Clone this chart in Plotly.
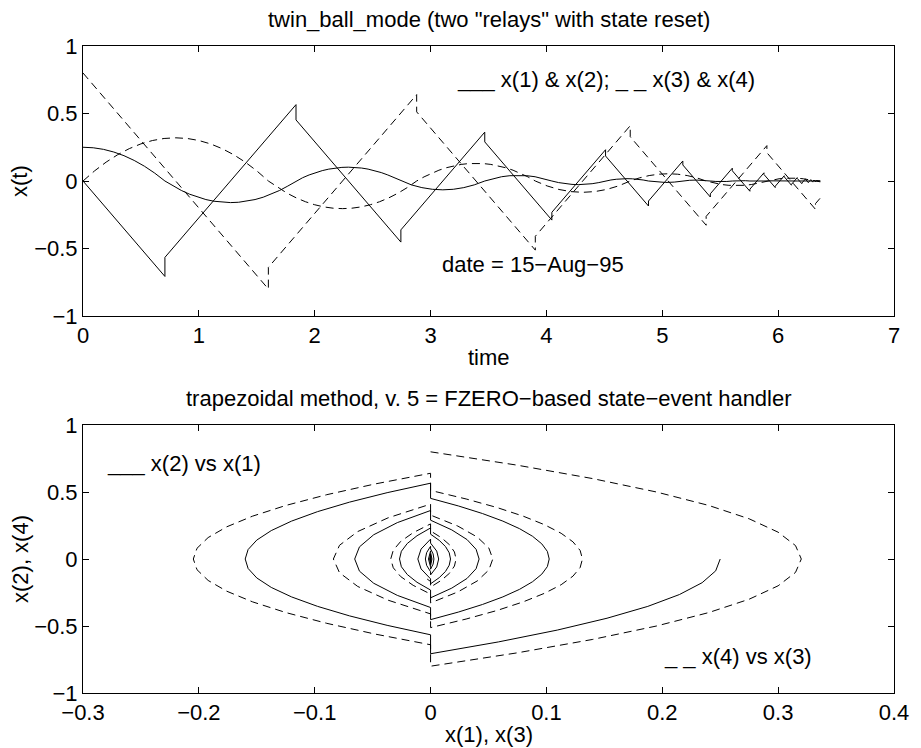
import plotly.graph_objects as go

# ---- solid system: time, x(1), x(2) ----
t_a = [0, 0.0884, 0.1768, 0.2652, 0.3536, 0.4419, 0.5303, 0.6187, 0.7071,
       0.7071, 0.7778, 0.8485, 0.9192, 0.9899, 1.0607, 1.1314, 1.2021, 1.2728, 1.3435, 1.4142, 1.4849, 1.5556, 1.6263, 1.6971, 1.7678, 1.8385,
       1.8385, 1.8951, 1.9516, 2.0082, 2.0648, 2.1214, 2.1779, 2.2345, 2.2911, 2.3477, 2.4042, 2.4608, 2.5174, 2.5740, 2.6305, 2.6871, 2.7437,
       2.7437, 2.8342, 2.9247, 3.0152, 3.1057, 3.1962, 3.2867, 3.3772, 3.4677,
       3.4677, 3.5401, 3.6125, 3.6849, 3.7573, 3.8297, 3.9021, 3.9745, 4.0469,
       4.0469, 4.1048, 4.1627, 4.2207, 4.2786, 4.3365, 4.3944, 4.4524, 4.5103,
       4.5103, 4.5566, 4.6030, 4.6493, 4.6956, 4.7419, 4.7883, 4.8346, 4.8809,
       4.8809, 4.9550, 5.0292, 5.1033, 5.1774,
       5.1774, 5.2367, 5.2960, 5.3553, 5.4146,
       5.4146, 5.4621, 5.5095, 5.5570, 5.6044,
       5.6044, 5.6424, 5.6803, 5.7183, 5.7562,
       5.7562, 5.8169, 5.8776,
       5.8776, 5.9262, 5.9748,
       5.9748, 6.0137, 6.0526,
       6.0526, 6.0837, 6.1148,
       6.1148, 6.1397, 6.1646,
       6.1646, 6.1845, 6.2044,
       6.2044, 6.2203, 6.2362,
       6.2362, 6.2489, 6.2616,
       6.2616, 6.2718, 6.2820,
       6.2820, 6.2902, 6.2984,
       6.2984, 6.3049, 6.3114,
       6.3114, 6.3166, 6.3218,
       6.3218, 6.3260, 6.3302,
       6.3302, 6.3640]

x1 = [0.25, 0.2461, 0.2344, 0.2148, 0.1875, 0.1523, 0.1094, 0.0586, 0,
      0, -0.0375, -0.07, -0.0975, -0.12, -0.1375, -0.15, -0.1575, -0.16, -0.1575, -0.15, -0.1375, -0.12, -0.0975, -0.07, -0.0375, 0,
      0, 0.024, 0.0448, 0.0624, 0.0768, 0.088, 0.096, 0.1008, 0.1024, 0.1008, 0.096, 0.088, 0.0768, 0.0624, 0.0448, 0.024, 0,
      0, -0.0287, -0.0491, -0.0614, -0.0655, -0.0614, -0.0491, -0.0287, 0,
      0, 0.0183, 0.0315, 0.0393, 0.0419, 0.0393, 0.0315, 0.0183, 0,
      0, -0.0117, -0.0201, -0.0252, -0.0268, -0.0252, -0.0201, -0.0117, 0,
      0, 0.0075, 0.0129, 0.0161, 0.0172, 0.0161, 0.0129, 0.0075, 0,
      0, -0.0082, -0.011, -0.0082, 0,
      0, 0.0053, 0.007, 0.0053, 0,
      0, -0.0034, -0.0045, -0.0034, 0,
      0, 0.0022, 0.0029, 0.0022, 0,
      0, -0.0018, 0,
      0, 0.0012, 0,
      0, -0.0008, 0,
      0, 0.0005, 0,
      0, -0.0003, 0,
      0, 0.0002, 0,
      0, -0.0001, 0,
      0, 0.0001, 0,
      0, -0.0001, 0,
      0, 0, 0,
      0, 0, 0,
      0, 0, 0,
      0, 0, 0,
      0, 0]

x2 = [0, -0.0884, -0.1768, -0.2652, -0.3536, -0.4419, -0.5303, -0.6187, -0.7071,
      -0.5657, -0.495, -0.4243, -0.3536, -0.2828, -0.2121, -0.1414, -0.0707, 0, 0.0707, 0.1414, 0.2121, 0.2828, 0.3536, 0.4243, 0.495, 0.5657,
      0.4525, 0.396, 0.3394, 0.2828, 0.2263, 0.1697, 0.1131, 0.0566, 0, -0.0566, -0.1131, -0.1697, -0.2263, -0.2828, -0.3394, -0.396, -0.4525,
      -0.362, -0.2715, -0.181, -0.0905, 0, 0.0905, 0.181, 0.2715, 0.362,
      0.2896, 0.2172, 0.1448, 0.0724, 0, -0.0724, -0.1448, -0.2172, -0.2896,
      -0.2317, -0.1738, -0.1158, -0.0579, 0, 0.0579, 0.1158, 0.1738, 0.2317,
      0.1853, 0.139, 0.0927, 0.0463, 0, -0.0463, -0.0927, -0.139, -0.1853,
      -0.1483, -0.0741, 0, 0.0741, 0.1483,
      0.1186, 0.0593, 0, -0.0593, -0.1186,
      -0.0949, -0.0475, 0, 0.0475, 0.0949,
      0.0759, 0.038, 0, -0.038, -0.0759,
      -0.0607, 0, 0.0607,
      0.0486, 0, -0.0486,
      -0.0389, 0, 0.0389,
      0.0311, 0, -0.0311,
      -0.0249, 0, 0.0249,
      0.0199, 0, -0.0199,
      -0.0159, 0, 0.0159,
      0.0127, 0, -0.0127,
      -0.0102, 0, 0.0102,
      0.0082, 0, -0.0082,
      -0.0065, 0, 0.0065,
      0.0052, 0, -0.0052,
      -0.0042, 0, 0.0042,
      0.0034, 0]

# ---- dashed system: time, x(3), x(4) ----
t_b = [0, 0.1, 0.2, 0.3, 0.4, 0.5, 0.6, 0.7, 0.8, 0.9, 1.0, 1.1, 1.2, 1.3, 1.4, 1.5, 1.6,
       1.6, 1.68, 1.76, 1.84, 1.92, 2.0, 2.08, 2.16, 2.24, 2.32, 2.4, 2.48, 2.56, 2.64, 2.72, 2.8, 2.88,
       2.88, 2.944, 3.008, 3.072, 3.136, 3.2, 3.264, 3.328, 3.392, 3.456, 3.52, 3.584, 3.648, 3.712, 3.776, 3.84, 3.904,
       3.904, 4.0064, 4.1088, 4.2112, 4.3136, 4.416, 4.5184, 4.6208, 4.7232,
       4.7232, 4.8051, 4.887, 4.969, 5.0509, 5.1328, 5.2148, 5.2967, 5.3786,
       5.3786, 5.4441, 5.5097, 5.5752, 5.6408, 5.7063, 5.7718, 5.8374, 5.9029,
       5.9029, 5.9553, 6.0078, 6.0602, 6.1126, 6.165, 6.2175, 6.2699, 6.3223,
       6.3223, 6.3423, 6.364]

x3 = [0, 0.075, 0.14, 0.195, 0.24, 0.275, 0.3, 0.315, 0.32, 0.315, 0.3, 0.275, 0.24, 0.195, 0.14, 0.075, 0,
      0, -0.048, -0.0896, -0.1248, -0.1536, -0.176, -0.192, -0.2016, -0.2048, -0.2016, -0.192, -0.176, -0.1536, -0.1248, -0.0896, -0.048, 0,
      0, 0.0307, 0.0574, 0.0799, 0.0983, 0.1127, 0.1229, 0.1291, 0.1311, 0.1291, 0.1229, 0.1127, 0.0983, 0.0799, 0.0574, 0.0307, 0,
      0, -0.0367, -0.0629, -0.0786, -0.0839, -0.0786, -0.0629, -0.0367, 0,
      0, 0.0235, 0.0403, 0.0503, 0.0537, 0.0503, 0.0403, 0.0235, 0,
      0, -0.015, -0.0258, -0.0322, -0.0344, -0.0322, -0.0258, -0.015, 0,
      0, 0.0096, 0.0165, 0.0206, 0.022, 0.0206, 0.0165, 0.0096, 0,
      0, -0.0032, -0.0061]

x4 = [0.8, 0.7, 0.6, 0.5, 0.4, 0.3, 0.2, 0.1, 0, -0.1, -0.2, -0.3, -0.4, -0.5, -0.6, -0.7, -0.8,
      -0.64, -0.56, -0.48, -0.4, -0.32, -0.24, -0.16, -0.08, 0, 0.08, 0.16, 0.24, 0.32, 0.4, 0.48, 0.56, 0.64,
      0.512, 0.448, 0.384, 0.32, 0.256, 0.192, 0.128, 0.064, 0, -0.064, -0.128, -0.192, -0.256, -0.32, -0.384, -0.448, -0.512,
      -0.4096, -0.3072, -0.2048, -0.1024, 0, 0.1024, 0.2048, 0.3072, 0.4096,
      0.3277, 0.2458, 0.1638, 0.0819, 0, -0.0819, -0.1638, -0.2458, -0.3277,
      -0.2621, -0.1966, -0.1311, -0.0655, 0, 0.0655, 0.1311, 0.1966, 0.2621,
      0.2097, 0.1573, 0.1049, 0.0524, 0, -0.0524, -0.1049, -0.1573, -0.2097,
      -0.1678, -0.1478, -0.1261]

# ---- text ----
title_top = 'twin_ball_mode (two "relays" with state reset)'
title_bot = 'trapezoidal method, v. 5 = FZERO\u2212based state\u2212event handler'
legend_top = '___ x(1) & x(2); _ _ x(3) & x(4)'
date_text = 'date = 15\u2212Aug\u221295'
legend_b1 = '___ x(2) vs x(1)'
legend_b2 = '_ _ x(4) vs x(3)'

FONT = 'Liberation Sans, Arial, Helvetica, sans-serif'
FS = 22
solid = dict(color='black', width=1)
dashed = dict(color='black', width=1, dash='8px,5px')

fig = go.Figure()
fig.add_trace(go.Scatter(x=t_a, y=x1, mode='lines', line=solid, xaxis='x', yaxis='y'))
fig.add_trace(go.Scatter(x=t_a, y=x2, mode='lines', line=solid, xaxis='x', yaxis='y'))
fig.add_trace(go.Scatter(x=t_b, y=x3, mode='lines', line=dashed, xaxis='x', yaxis='y'))
fig.add_trace(go.Scatter(x=t_b, y=x4, mode='lines', line=dashed, xaxis='x', yaxis='y'))
fig.add_trace(go.Scatter(x=x1, y=x2, mode='lines', line=solid, xaxis='x2', yaxis='y2'))
fig.add_trace(go.Scatter(x=x3, y=x4, mode='lines', line=dashed, xaxis='x2', yaxis='y2'))

ax = dict(showline=True, mirror='ticks', linecolor='black', linewidth=1,
          ticks='inside', ticklen=6, tickcolor='black', showgrid=False, zeroline=False,
          tickfont=dict(family=FONT, size=FS, color='black'))

fig.update_layout(
    width=921, height=748,
    margin=dict(l=83, r=16, t=46, b=55),
    paper_bgcolor='white', plot_bgcolor='white',
    showlegend=False,
    font=dict(family=FONT, size=FS, color='black'),
    xaxis=dict(ax, domain=[0, 1], range=[0, 7], dtick=1, tick0=0, anchor='y'),
    yaxis=dict(ax, domain=[0.5827, 1], range=[-1, 1], dtick=0.5, tick0=0, anchor='x'),
    xaxis2=dict(ax, domain=[0, 1], range=[-0.3, 0.4], dtick=0.1, tick0=0, anchor='y2'),
    yaxis2=dict(ax, domain=[0, 0.4142], range=[-1, 1], dtick=0.5, tick0=0, anchor='x2'),
)

ann = [
    dict(text=title_top, xref='x domain', yref='y domain', x=0.5, y=1, xanchor='center', yanchor='bottom', yshift=12),
    dict(text=title_bot, xref='x2 domain', yref='y2 domain', x=0.5, y=1, xanchor='center', yanchor='bottom', yshift=12),
    dict(text='time', xref='x domain', yref='y domain', x=0.5, y=0, xanchor='center', yanchor='top', yshift=-27),
    dict(text='x(1), x(3)', xref='x2 domain', yref='y2 domain', x=0.5, y=0, xanchor='center', yanchor='top', yshift=-27),
    dict(text='x(t)', xref='x domain', yref='y domain', x=0, y=0.5, xanchor='center', yanchor='middle', xshift=-63, textangle=-90),
    dict(text='x(2), x(4)', xref='x2 domain', yref='y2 domain', x=0, y=0.5, xanchor='center', yanchor='middle', xshift=-63, textangle=-90),
    dict(text=legend_top, xref='x', yref='y', x=3.21, y=0.75, xanchor='left', yanchor='middle'),
    dict(text=date_text, xref='x', yref='y', x=3.08, y=-0.62, xanchor='left', yanchor='middle'),
    dict(text=legend_b1, xref='x2', yref='y2', x=-0.281, y=0.71, xanchor='left', yanchor='middle'),
    dict(text=legend_b2, xref='x2', yref='y2', x=0.2, y=-0.73, xanchor='left', yanchor='middle'),
]
for a in ann:
    a.update(showarrow=False, font=dict(family=FONT, size=FS, color='black'))
fig.update_layout(annotations=ann)

fig.write_html('out.html', config={'displayModeBar': False},
               post_script="document.body.style.margin='0';")
